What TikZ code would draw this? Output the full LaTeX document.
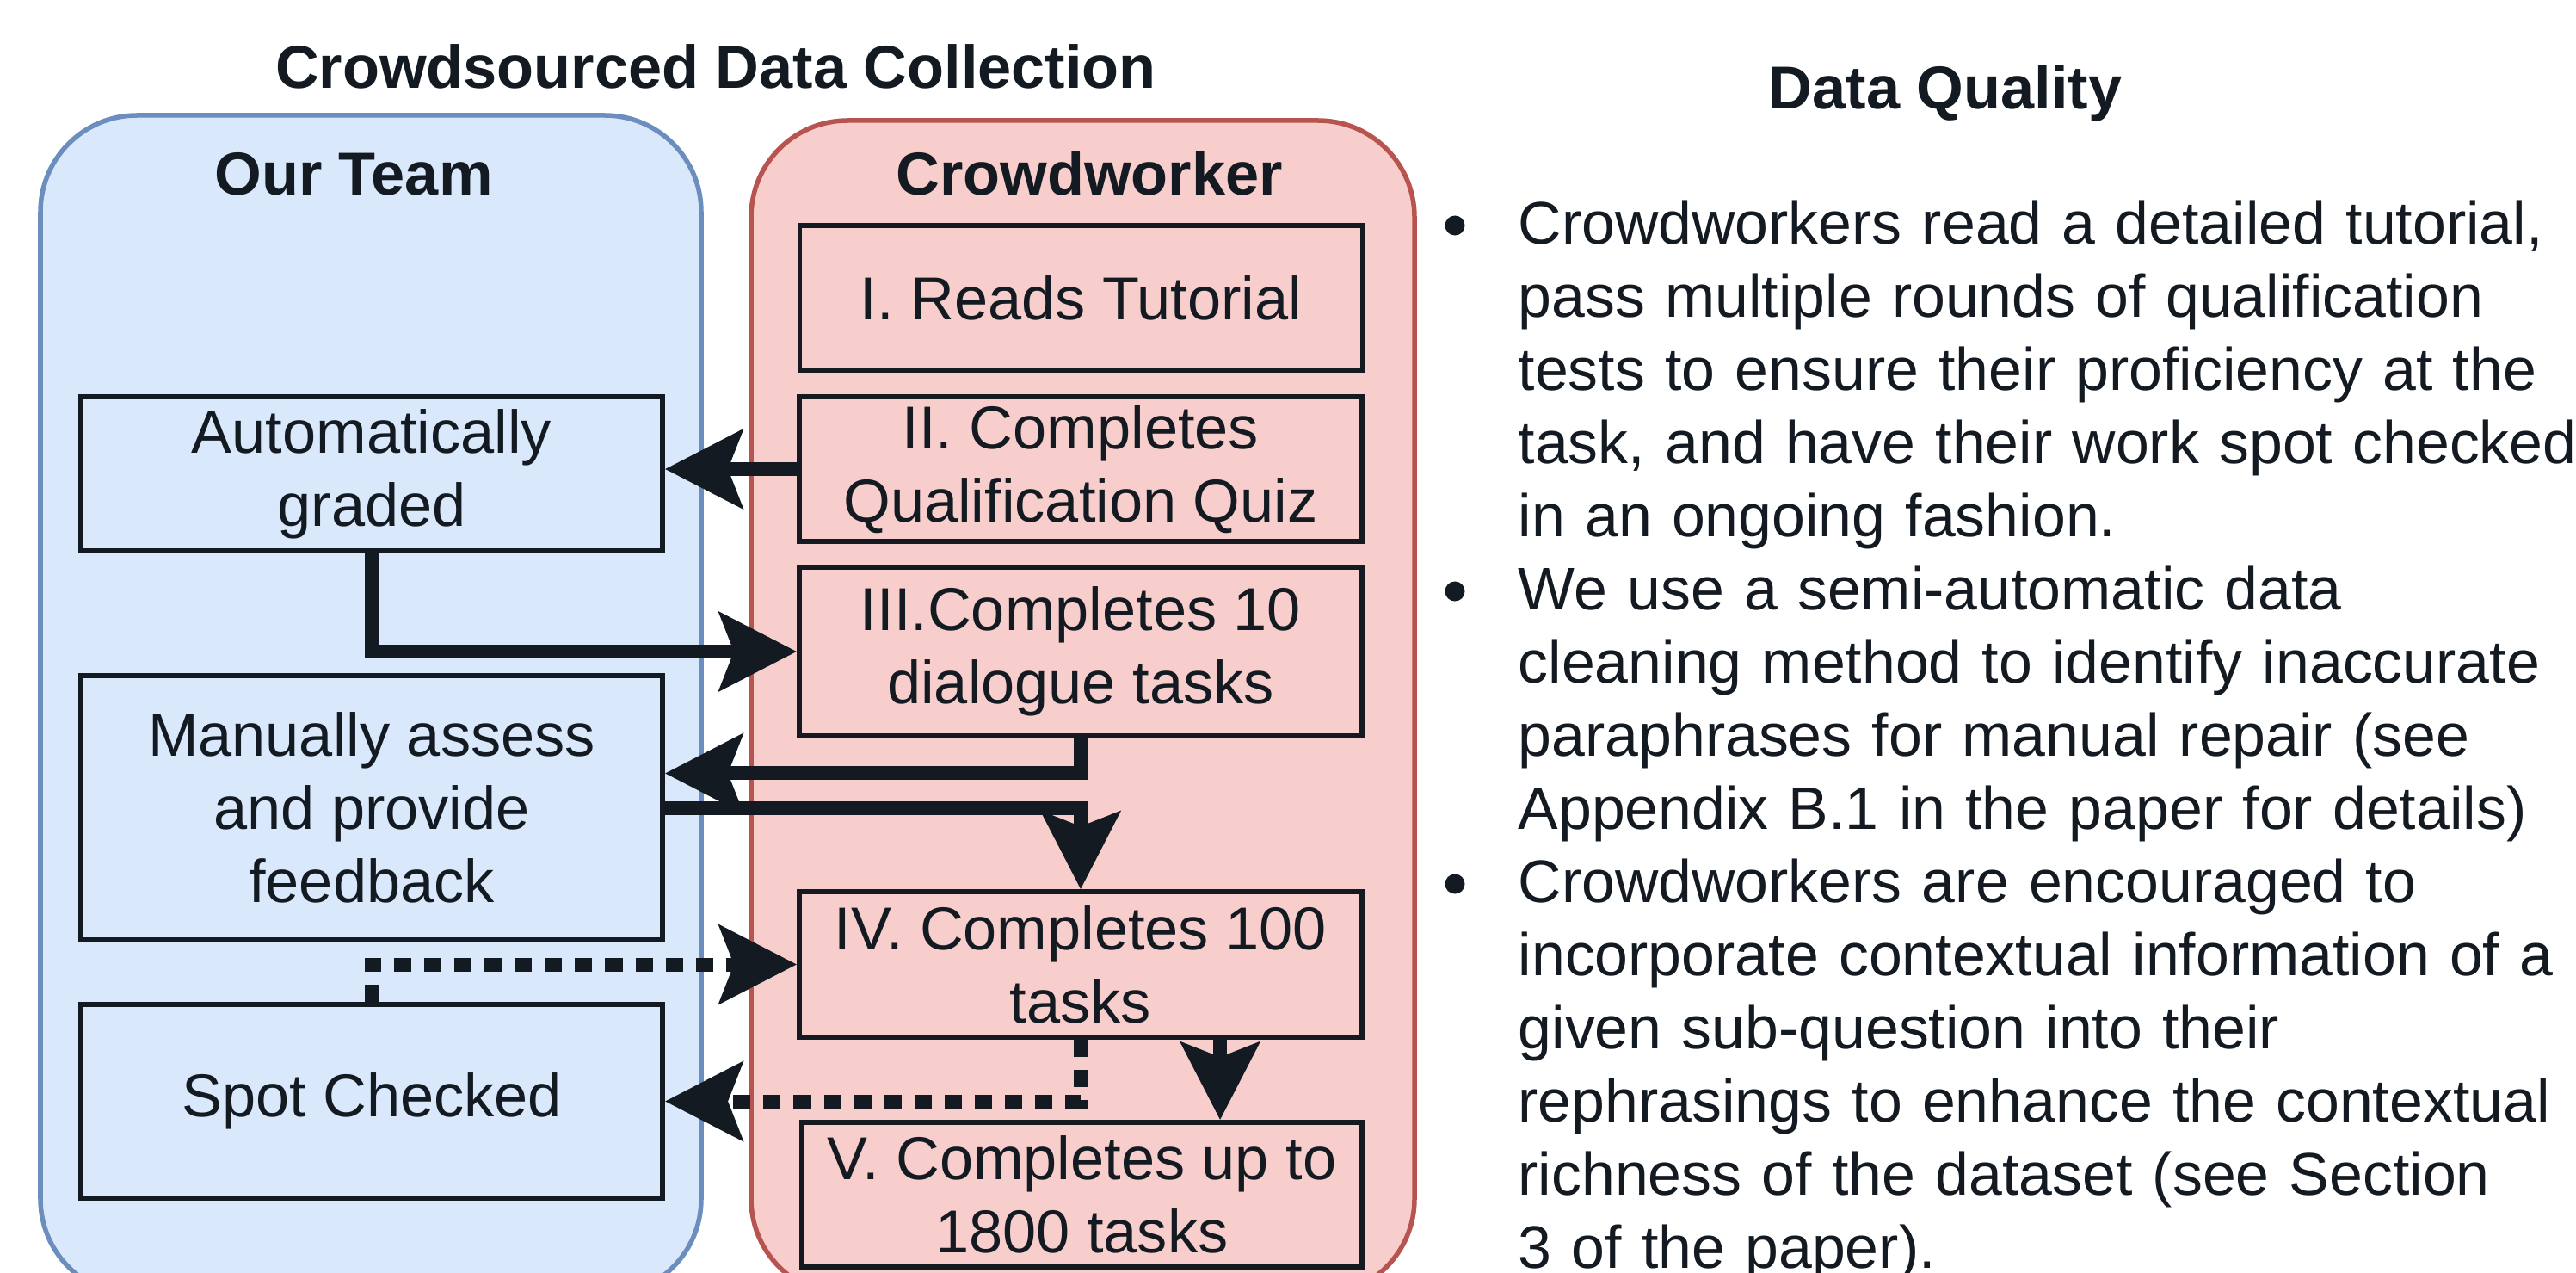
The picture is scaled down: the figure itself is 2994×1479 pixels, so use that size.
\documentclass[tikz,border=0pt]{standalone}
\usepackage{fontspec}
\setmainfont{Liberation Sans}
\usetikzlibrary{arrows.meta}
\definecolor{ink}{HTML}{141A21}
\definecolor{blueF}{HTML}{DAE8FC}
\definecolor{blueD}{HTML}{6C8EBF}
\definecolor{redF}{HTML}{F8CECC}
\definecolor{redD}{HTML}{B85450}
\tikzset{
  lane/.style={line width=0.055cm, rounded corners=1.12cm},
  stepbox/.style={draw=ink, line width=0.055cm, inner sep=0pt, align=center, minimum width=6.54cm},
  teambox/.style={draw=ink, line width=0.055cm, inner sep=0pt, align=center, fill=blueF, minimum width=6.76cm},
  conn/.style={draw=ink, line width=0.16cm, -{Stealth[length=0.9cm,width=0.91cm,inset=0.17cm]}},
  dotconn/.style={conn, dash pattern=on 0.2cm off 0.15cm},
  title/.style={font=\fontsize{20pt}{24.2pt}\selectfont\bfseries, inner sep=0pt},
  para/.style={inner sep=0pt, text width=13cm, align=left, anchor=base west, font=\fontsize{19.85pt}{24.2pt}\selectfont},
  bul/.style={circle, fill=ink, inner sep=0pt, minimum size=0.23cm}
}
\begin{document}
\begin{tikzpicture}[x=0.01cm, y=-0.01cm, font=\fontsize{20pt}{24.2pt}\selectfont, text=ink]
\clip (0,0) rectangle (2994,1479);
\fill[white] (0,0) rectangle (2994,1479);
% lanes
\draw[lane, fill=blueF, draw=blueD] (47,134) rectangle (815,1505);
\draw[lane, fill=redF, draw=redD] (873,140) rectangle (1644,1505);
% titles
\node[title, anchor=base] (tmain) at (832,103) {Crowdsourced Data Collection};
\node[title, anchor=base] (tteam) at (411,227) {Our Team};
\node[title, anchor=base] (tcrowd) at (1266,227) {Crowdworker};
\node[title, anchor=base] (tqual) at (2261,127) {Data Quality};
% crowdworker steps
\node[stepbox, fill=redF, minimum height=1.68cm] (s1) at (1256.5,346) {I. Reads Tutorial};
\node[stepbox, fill=redF, minimum height=1.68cm] (s2) at (1256,545) {II. Completes\\Qualification Quiz};
\node[stepbox, fill=redF, minimum height=1.96cm] (s3) at (1256,757) {III.Completes 10\\dialogue tasks};
\node[stepbox, fill=redF, minimum height=1.69cm] (s4) at (1256,1120.5) {IV. Completes 100\\tasks};
\node[stepbox, fill=redF, minimum height=1.68cm, minimum width=6.51cm] (s5) at (1257.5,1388) {V. Completes up to\\1800 tasks};
% team boxes
\node[teambox, minimum height=1.79cm] (auto) at (432,550.5) {Automatically\\graded};
\node[teambox, minimum height=3.07cm] (manual) at (432,938.5) {Manually assess\\and provide\\feedback};
\node[teambox, minimum height=2.25cm] (spot) at (432,1279.5) {Spot Checked};
% connectors
\draw[conn] (s2.west) -- (s2.west -| auto.east);
\draw[conn] (auto.south) |- (s3.west);
\draw[conn] (s3.south) |- ([yshift=0.4cm]manual.east);
\draw[conn] (manual.east) -| (s4.north);
\draw[dotconn] (spot.north) |- (s4.west);
\draw[dotconn] (s4.south) |- (spot.east);
\draw[dotconn] ([xshift=1.62cm]s4.south) -- ([xshift=1.62cm]s4.south |- s5.north);
% data quality bullets
\node[bul] (b1) at (1691,262) {};
\node[bul] (b2) at (1691,687) {};
\node[bul] (b3) at (1691,1027) {};
\node[para] (p1) at (1764,283) {Crowdworkers read a detailed tutorial,\\pass multiple rounds of qualification\\tests to ensure their proficiency at the\\task, and have their work spot checked\\in an ongoing fashion.};
\node[para] (p2) at (1764,708) {We use a semi-automatic data\\cleaning method to identify inaccurate\\paraphrases for manual repair (see\\Appendix B.1 in the paper for details)};
\node[para] (p3) at (1764,1048) {Crowdworkers are encouraged to\\incorporate contextual information of a\\given sub-question into their\\rephrasings to enhance the contextual\\richness of the dataset (see Section\\3 of the paper).};
\end{tikzpicture}
\end{document}
